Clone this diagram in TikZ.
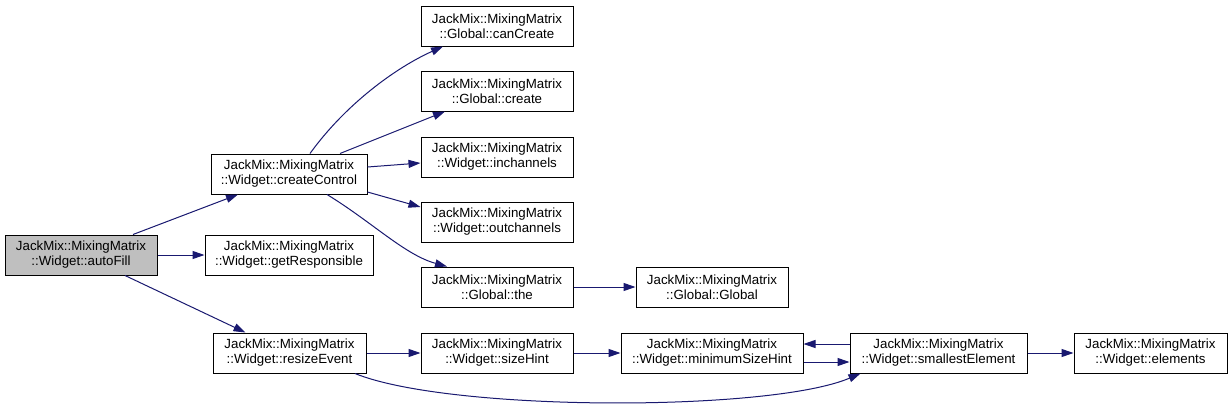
\documentclass[tikz,border=0pt]{standalone}
\usepackage{fontspec}
\setmainfont{Liberation Sans}
\usetikzlibrary{arrows.meta}
\definecolor{edgec}{HTML}{191970}
\definecolor{hl}{HTML}{BFBFBF}
\tikzset{
 box/.style={draw=black, fill=white, line width=1pt, minimum height=40pt, inner sep=0pt, align=center, font=\fontsize{13.3}{15}\selectfont},
 edge/.style={draw=edgec, line width=1pt, -{Triangle[length=12pt,width=8pt]}},
}
\begin{document}
\begin{tikzpicture}[x=1pt,y=-1pt]
\useasboundingbox[fill=white] (0,0) rectangle (1232,407);
\node[box, fill=hl, minimum width=152pt] (af) at (81,255) {JackMix::MixingMatrix\\::Widget::autoFill};
\node[box, minimum width=156pt] (cc) at (289,174) {JackMix::MixingMatrix\\::Widget::createControl};
\node[box, minimum width=168pt] (gr) at (289,255) {JackMix::MixingMatrix\\::Widget::getResponsible};
\node[box, minimum width=153pt] (re) at (289.5,353) {JackMix::MixingMatrix\\::Widget::resizeEvent};
\node[box, minimum width=152pt] (can) at (497,26) {JackMix::MixingMatrix\\::Global::canCreate};
\node[box, minimum width=152pt] (cr) at (497,91) {JackMix::MixingMatrix\\::Global::create};
\node[box, minimum width=152pt] (inch) at (497,157) {JackMix::MixingMatrix\\::Widget::inchannels};
\node[box, minimum width=152pt] (outch) at (497,222) {JackMix::MixingMatrix\\::Widget::outchannels};
\node[box, minimum width=152pt] (the) at (497,287) {JackMix::MixingMatrix\\::Global::the};
\node[box, minimum width=152pt] (gl) at (712,287) {JackMix::MixingMatrix\\::Global::Global};
\node[box, minimum width=152pt] (sh) at (497,353) {JackMix::MixingMatrix\\::Widget::sizeHint};
\node[box, minimum width=182pt] (msh) at (712,353) {JackMix::MixingMatrix\\::Widget::minimumSizeHint};
\node[box, minimum width=177pt] (se) at (938.5,353) {JackMix::MixingMatrix\\::Widget::smallestElement};
\node[box, minimum width=153pt] (el) at (1150.5,353) {JackMix::MixingMatrix\\::Widget::elements};

\draw[edge] ([xshift=52pt]af.north) -- ([xshift=-51pt]cc.south);
\draw[edge] (af.east) -- (gr.west);
\draw[edge] ([xshift=44pt]af.south) -- ([xshift=-44pt]re.north);
\draw[edge] ([xshift=21pt]cc.north) .. controls (345,105) and (395,68) .. ([xshift=-54pt]can.south);
\draw[edge] ([xshift=51pt]cc.north) -- ([xshift=-52pt]cr.south);
\draw[edge] ([yshift=7pt]cc.east) -- ([yshift=-6pt]inch.west);
\draw[edge] ([yshift=-18pt]cc.east) -- ([yshift=15pt]outch.west);
\draw[edge] ([xshift=38pt]cc.south) .. controls (372,222) and (405,255) .. ([xshift=-50pt]the.north);
\draw[edge] (the.east) -- (gl.west);
\draw[edge] (re.east) -- (sh.west);
\draw[edge] (sh.east) -- (msh.west);
\draw[edge] ([yshift=9pt]se.west) -- ([yshift=9pt]msh.east);
\draw[edge] ([yshift=-9pt]msh.east) -- ([yshift=-9pt]se.west);
\draw[edge] (se.east) -- (el.west);
\draw[edge] ([xshift=65.5pt]re.south) .. controls (450,412) and (770,412) .. ([xshift=-78pt]se.south);
\end{tikzpicture}
\end{document}
